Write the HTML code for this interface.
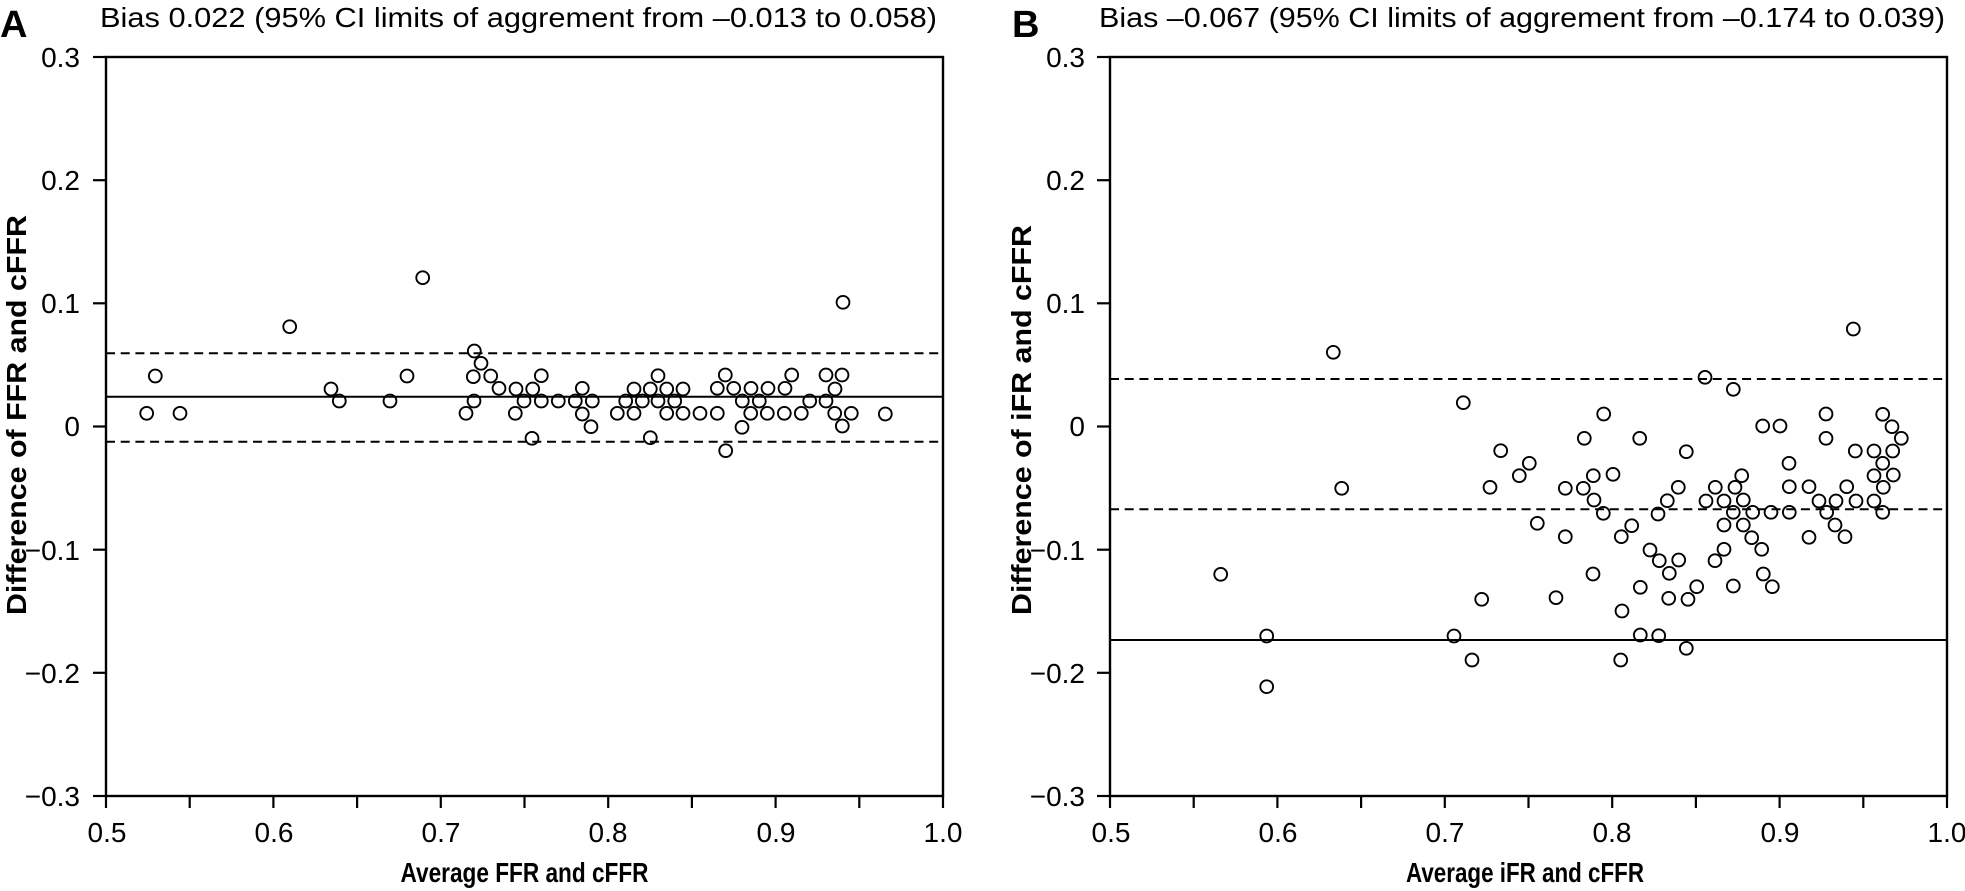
<!DOCTYPE html>
<html>
<head>
<meta charset="utf-8">
<style>
html,body{margin:0;padding:0;background:#fff;}
svg{display:block;}
text{font-family:"Liberation Sans",sans-serif;fill:#000;}
.t{font-size:28px;}
.b{font-weight:bold;font-size:28px;}
</style>
</head>
<body>
<svg width="1965" height="891" viewBox="0 0 1965 891" xmlns="http://www.w3.org/2000/svg">
<!-- Panel letters -->
<text x="0" y="37" style="font-weight:bold;font-size:38px">A</text>
<text x="1012" y="37" style="font-weight:bold;font-size:38px">B</text>
<!-- Titles -->
<text class="t" x="100" y="27" textLength="837" lengthAdjust="spacingAndGlyphs">Bias 0.022 (95% CI limits of aggrement from –0.013 to 0.058)</text>
<text class="t" x="1099" y="27" textLength="846" lengthAdjust="spacingAndGlyphs">Bias –0.067 (95% CI limits of aggrement from –0.174 to 0.039)</text>

<!-- Frames -->
<g stroke="#000" stroke-width="2.4" fill="none">
<rect x="106" y="57" width="837" height="739"/>
<rect x="1110" y="57" width="837" height="739"/>
</g>
<!-- Y ticks -->
<g stroke="#000" stroke-width="2.2">
<line x1="93" y1="57" x2="106" y2="57"/><line x1="93" y1="180.2" x2="106" y2="180.2"/><line x1="93" y1="303.3" x2="106" y2="303.3"/><line x1="93" y1="426.5" x2="106" y2="426.5"/><line x1="93" y1="549.7" x2="106" y2="549.7"/><line x1="93" y1="672.8" x2="106" y2="672.8"/><line x1="93" y1="796" x2="106" y2="796"/>
<line x1="1097" y1="57" x2="1110" y2="57"/><line x1="1097" y1="180.2" x2="1110" y2="180.2"/><line x1="1097" y1="303.3" x2="1110" y2="303.3"/><line x1="1097" y1="426.5" x2="1110" y2="426.5"/><line x1="1097" y1="549.7" x2="1110" y2="549.7"/><line x1="1097" y1="672.8" x2="1110" y2="672.8"/><line x1="1097" y1="796" x2="1110" y2="796"/>
<!-- X ticks -->
<line x1="106" y1="796" x2="106" y2="808"/><line x1="189.7" y1="796" x2="189.7" y2="808"/><line x1="273.4" y1="796" x2="273.4" y2="808"/><line x1="357.1" y1="796" x2="357.1" y2="808"/><line x1="440.8" y1="796" x2="440.8" y2="808"/><line x1="524.5" y1="796" x2="524.5" y2="808"/><line x1="608.2" y1="796" x2="608.2" y2="808"/><line x1="691.9" y1="796" x2="691.9" y2="808"/><line x1="775.6" y1="796" x2="775.6" y2="808"/><line x1="859.3" y1="796" x2="859.3" y2="808"/><line x1="943" y1="796" x2="943" y2="808"/>
<line x1="1110" y1="796" x2="1110" y2="808"/><line x1="1193.7" y1="796" x2="1193.7" y2="808"/><line x1="1277.4" y1="796" x2="1277.4" y2="808"/><line x1="1361.1" y1="796" x2="1361.1" y2="808"/><line x1="1444.8" y1="796" x2="1444.8" y2="808"/><line x1="1528.5" y1="796" x2="1528.5" y2="808"/><line x1="1612.2" y1="796" x2="1612.2" y2="808"/><line x1="1695.9" y1="796" x2="1695.9" y2="808"/><line x1="1779.6" y1="796" x2="1779.6" y2="808"/><line x1="1863.3" y1="796" x2="1863.3" y2="808"/><line x1="1947" y1="796" x2="1947" y2="808"/>
</g>
<!-- Y tick labels -->
<g class="t" text-anchor="end" font-size="28">
<text x="80" y="67">0.3</text><text x="80" y="190">0.2</text><text x="80" y="313">0.1</text><text x="80" y="436">0</text><text x="80" y="560">−0.1</text><text x="80" y="683">−0.2</text><text x="80" y="806">−0.3</text>
<text x="1085" y="67">0.3</text><text x="1085" y="190">0.2</text><text x="1085" y="313">0.1</text><text x="1085" y="436">0</text><text x="1085" y="560">−0.1</text><text x="1085" y="683">−0.2</text><text x="1085" y="806">−0.3</text>
</g>
<!-- X tick labels -->
<g class="t" text-anchor="middle" font-size="28">
<text x="107" y="842">0.5</text><text x="274" y="842">0.6</text><text x="441" y="842">0.7</text><text x="608" y="842">0.8</text><text x="776" y="842">0.9</text><text x="943" y="842">1.0</text>
<text x="1111" y="842">0.5</text><text x="1278" y="842">0.6</text><text x="1445" y="842">0.7</text><text x="1612" y="842">0.8</text><text x="1780" y="842">0.9</text><text x="1947" y="842">1.0</text>
</g>
<!-- Axis titles -->
<text class="b" x="524.5" y="882" text-anchor="middle" textLength="248" lengthAdjust="spacingAndGlyphs">Average FFR and cFFR</text>
<text class="b" x="1525" y="882" text-anchor="middle" textLength="238" lengthAdjust="spacingAndGlyphs">Average iFR and cFFR</text>
<text class="b" transform="translate(26,415) rotate(-90)" text-anchor="middle" textLength="400" lengthAdjust="spacingAndGlyphs">Difference of FFR and cFFR</text>
<text class="b" transform="translate(1031,420) rotate(-90)" text-anchor="middle" textLength="390" lengthAdjust="spacingAndGlyphs">Difference of iFR and cFFR</text>

<!-- Reference lines -->
<g stroke="#000" stroke-width="2">
<line x1="106" y1="396.7" x2="943" y2="396.7"/>
<line x1="106" y1="353.3" x2="943" y2="353.3" stroke-dasharray="9,5.7"/>
<line x1="106" y1="441.7" x2="943" y2="441.7" stroke-dasharray="9,5.7"/>
<line x1="1110" y1="640" x2="1947" y2="640"/>
<line x1="1110" y1="379" x2="1947" y2="379" stroke-dasharray="9,5.7"/>
<line x1="1110" y1="509.3" x2="1947" y2="509.3" stroke-dasharray="9,5.7"/>
</g>

<!-- Panel A points -->
<g stroke="#000" stroke-width="1.9" fill="none">
<circle cx="146.7" cy="413.3" r="6.4"/><circle cx="155.3" cy="376" r="6.4"/><circle cx="180" cy="413.3" r="6.4"/><circle cx="289.7" cy="326.7" r="6.4"/><circle cx="422.7" cy="277.7" r="6.4"/><circle cx="331" cy="389" r="6.4"/><circle cx="339.3" cy="401" r="6.4"/><circle cx="390" cy="401" r="6.4"/><circle cx="407" cy="376" r="6.4"/><circle cx="474.3" cy="351" r="6.4"/><circle cx="481" cy="363.3" r="6.4"/><circle cx="473.3" cy="376.7" r="6.4"/><circle cx="490.7" cy="376" r="6.4"/><circle cx="499" cy="388.3" r="6.4"/><circle cx="474" cy="401" r="6.4"/><circle cx="466" cy="413.3" r="6.4"/><circle cx="516" cy="389" r="6.4"/><circle cx="524" cy="401" r="6.4"/><circle cx="515.3" cy="413.3" r="6.4"/><circle cx="532" cy="438.3" r="6.4"/><circle cx="532.7" cy="389" r="6.4"/><circle cx="541.3" cy="375.7" r="6.4"/><circle cx="541.3" cy="401" r="6.4"/><circle cx="558.3" cy="401" r="6.4"/><circle cx="575.3" cy="401" r="6.4"/><circle cx="582.3" cy="388.3" r="6.4"/><circle cx="592.3" cy="401" r="6.4"/><circle cx="582.3" cy="414" r="6.4"/><circle cx="591" cy="426.7" r="6.4"/><circle cx="617.3" cy="413.3" r="6.4"/><circle cx="625.7" cy="401" r="6.4"/><circle cx="634" cy="389" r="6.4"/><circle cx="634" cy="413.3" r="6.4"/><circle cx="642.3" cy="401" r="6.4"/><circle cx="650.3" cy="389" r="6.4"/><circle cx="658" cy="375.7" r="6.4"/><circle cx="658" cy="401" r="6.4"/><circle cx="666.7" cy="389" r="6.4"/><circle cx="666.7" cy="413.3" r="6.4"/><circle cx="674.7" cy="401" r="6.4"/><circle cx="683" cy="389" r="6.4"/><circle cx="683" cy="413.3" r="6.4"/><circle cx="650.3" cy="437.7" r="6.4"/><circle cx="700" cy="413.3" r="6.4"/><circle cx="717.3" cy="388.3" r="6.4"/><circle cx="725.3" cy="375" r="6.4"/><circle cx="717.3" cy="413.3" r="6.4"/><circle cx="733.7" cy="388.3" r="6.4"/><circle cx="725.7" cy="450.7" r="6.4"/><circle cx="742.3" cy="401" r="6.4"/><circle cx="751" cy="388.3" r="6.4"/><circle cx="750.7" cy="413.3" r="6.4"/><circle cx="742" cy="427.3" r="6.4"/><circle cx="759.3" cy="401" r="6.4"/><circle cx="768" cy="388.3" r="6.4"/><circle cx="767.3" cy="413.3" r="6.4"/><circle cx="785" cy="388.3" r="6.4"/><circle cx="791.7" cy="375" r="6.4"/><circle cx="784.3" cy="413.3" r="6.4"/><circle cx="801.3" cy="413.3" r="6.4"/><circle cx="809.7" cy="401" r="6.4"/><circle cx="826" cy="375" r="6.4"/><circle cx="842" cy="375" r="6.4"/><circle cx="835" cy="389" r="6.4"/><circle cx="826" cy="401" r="6.4"/><circle cx="834.7" cy="413.3" r="6.4"/><circle cx="851.3" cy="413.3" r="6.4"/><circle cx="842.3" cy="426" r="6.4"/><circle cx="843" cy="302.3" r="6.4"/><circle cx="885.3" cy="414" r="6.4"/>
</g>

<!-- Panel B points -->
<g stroke="#000" stroke-width="1.9" fill="none">
<circle cx="1333.3" cy="352.3" r="6.4"/><circle cx="1341.7" cy="488.3" r="6.4"/><circle cx="1220.7" cy="574.3" r="6.4"/><circle cx="1266.7" cy="636" r="6.4"/><circle cx="1266.7" cy="686.7" r="6.4"/><circle cx="1454" cy="636" r="6.4"/><circle cx="1463.3" cy="402.7" r="6.4"/><circle cx="1472" cy="660" r="6.4"/><circle cx="1481.7" cy="599.3" r="6.4"/><circle cx="1490" cy="487.3" r="6.4"/><circle cx="1500.7" cy="450.7" r="6.4"/><circle cx="1519.3" cy="475.7" r="6.4"/><circle cx="1529.3" cy="463.3" r="6.4"/><circle cx="1537.3" cy="523.3" r="6.4"/><circle cx="1556" cy="597.7" r="6.4"/><circle cx="1565.3" cy="536.7" r="6.4"/><circle cx="1565.3" cy="488.3" r="6.4"/><circle cx="1584.3" cy="438.3" r="6.4"/><circle cx="1583.3" cy="488.3" r="6.4"/><circle cx="1593.3" cy="475.7" r="6.4"/><circle cx="1594" cy="500" r="6.4"/><circle cx="1603.3" cy="513.3" r="6.4"/><circle cx="1593" cy="574" r="6.4"/><circle cx="1603.7" cy="414" r="6.4"/><circle cx="1613" cy="474.3" r="6.4"/><circle cx="1621.3" cy="536.7" r="6.4"/><circle cx="1631.7" cy="525.7" r="6.4"/><circle cx="1622" cy="611" r="6.4"/><circle cx="1620.7" cy="660" r="6.4"/><circle cx="1639.7" cy="438.3" r="6.4"/><circle cx="1640.3" cy="587.3" r="6.4"/><circle cx="1640.3" cy="635" r="6.4"/><circle cx="1650" cy="550" r="6.4"/><circle cx="1659.3" cy="560.7" r="6.4"/><circle cx="1658" cy="514" r="6.4"/><circle cx="1667.3" cy="500.7" r="6.4"/><circle cx="1669.3" cy="573.3" r="6.4"/><circle cx="1668.7" cy="598.3" r="6.4"/><circle cx="1658.7" cy="635.7" r="6.4"/><circle cx="1678.7" cy="560" r="6.4"/><circle cx="1678.3" cy="487.3" r="6.4"/><circle cx="1686.3" cy="451.7" r="6.4"/><circle cx="1688" cy="599.3" r="6.4"/><circle cx="1696.7" cy="586.7" r="6.4"/><circle cx="1686.3" cy="648.3" r="6.4"/><circle cx="1705" cy="377.3" r="6.4"/><circle cx="1706" cy="501" r="6.4"/>
<circle cx="1733.3" cy="389.3" r="6.4"/><circle cx="1853.3" cy="329" r="6.4"/><circle cx="1762.7" cy="426" r="6.4"/><circle cx="1780" cy="426" r="6.4"/><circle cx="1826" cy="414" r="6.4"/><circle cx="1826" cy="438.3" r="6.4"/><circle cx="1789" cy="463.3" r="6.4"/><circle cx="1789.3" cy="486.7" r="6.4"/><circle cx="1789.3" cy="512.3" r="6.4"/><circle cx="1771" cy="512.3" r="6.4"/><circle cx="1752.7" cy="512.3" r="6.4"/><circle cx="1733.3" cy="512.3" r="6.4"/><circle cx="1741.7" cy="475.7" r="6.4"/><circle cx="1735" cy="487.3" r="6.4"/><circle cx="1715.3" cy="487.3" r="6.4"/><circle cx="1724" cy="501" r="6.4"/><circle cx="1743.3" cy="500" r="6.4"/><circle cx="1724" cy="525" r="6.4"/><circle cx="1743.3" cy="525" r="6.4"/><circle cx="1751.7" cy="537.7" r="6.4"/><circle cx="1761.7" cy="549.3" r="6.4"/><circle cx="1724" cy="549.3" r="6.4"/><circle cx="1715" cy="560.7" r="6.4"/><circle cx="1733.3" cy="586" r="6.4"/><circle cx="1763.3" cy="574" r="6.4"/><circle cx="1772.3" cy="586.7" r="6.4"/><circle cx="1809" cy="486.7" r="6.4"/><circle cx="1819" cy="501" r="6.4"/><circle cx="1826.7" cy="512.3" r="6.4"/><circle cx="1836" cy="501" r="6.4"/><circle cx="1835" cy="525" r="6.4"/><circle cx="1845" cy="536.7" r="6.4"/><circle cx="1809" cy="537.3" r="6.4"/><circle cx="1846.7" cy="486.7" r="6.4"/><circle cx="1856" cy="501" r="6.4"/><circle cx="1855.3" cy="451" r="6.4"/><circle cx="1874" cy="451" r="6.4"/><circle cx="1882.7" cy="414.3" r="6.4"/><circle cx="1892" cy="426.7" r="6.4"/><circle cx="1901.3" cy="438.3" r="6.4"/><circle cx="1892.7" cy="451" r="6.4"/><circle cx="1882.7" cy="463.3" r="6.4"/><circle cx="1874" cy="475.7" r="6.4"/><circle cx="1893.3" cy="475" r="6.4"/><circle cx="1883.3" cy="487.3" r="6.4"/><circle cx="1874" cy="501" r="6.4"/><circle cx="1882.7" cy="512.3" r="6.4"/>
</g>
</svg>
</body>
</html>
